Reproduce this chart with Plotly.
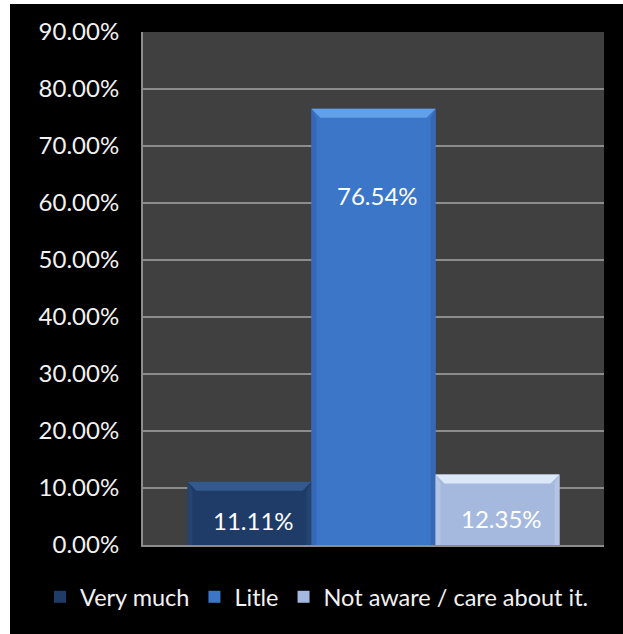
import plotly.graph_objects as go

# Survey responses (share of respondents)
series = ["Very much", "Litle", "Not aware / care about it."]
values = [11.11, 76.54, 12.35]
value_labels = ["11.11%", "76.54%", "12.35%"]
tick_vals = [0, 10, 20, 30, 40, 50, 60, 70, 80, 90]
tick_text = ["0.00%", "10.00%", "20.00%", "30.00%", "40.00%",
             "50.00%", "60.00%", "70.00%", "80.00%", "90.00%"]

# face / bevel colours per series
face = ["#1F3C68", "#3C76C8", "#A5B8DD"]
bevel_top = ["#33598F", "#62A0EA", "#DCE7F8"]
bevel_side = ["#25446F", "#3569B6", "#B3C4E5"]

W, H = 623, 634
L, R, T, B = 143, 19, 32, 89
plot_w = W - L - R
plot_h = H - T - B
y_max = 90
bargap = 0.193
n = len(series)
bw = (1 - bargap) / n

fig = go.Figure()
for i, (name, v) in enumerate(zip(series, values)):
    fig.add_trace(go.Bar(
        x=[0], y=[v], name=name,
        marker=dict(color=face[i], line=dict(width=0)),
        hoverinfo="skip",
    ))

shapes = []
annotations = []
dx = 9 / plot_w          # bevel width in x units
dy = 9 / plot_h * y_max  # bevel depth in y units
sx = 5 / plot_w
for i, v in enumerate(values):
    cx = (i - (n - 1) / 2) * bw
    x0, x1 = cx - bw / 2, cx + bw / 2
    # side bevels
    shapes.append(dict(type="path", xref="x", yref="y", layer="above",
                       path=f"M{x0},{v} L{x0+sx},{v-dy} L{x0+sx},0 L{x0},0 Z",
                       fillcolor=bevel_side[i], line=dict(width=0)))
    shapes.append(dict(type="path", xref="x", yref="y", layer="above",
                       path=f"M{x1},{v} L{x1-sx},{v-dy} L{x1-sx},0 L{x1},0 Z",
                       fillcolor=bevel_side[i], line=dict(width=0)))
    # top bevel
    shapes.append(dict(type="path", xref="x", yref="y", layer="above",
                       path=f"M{x0},{v} L{x1},{v} L{x1-dx},{v-dy} L{x0+dx},{v-dy} Z",
                       fillcolor=bevel_top[i], line=dict(width=0)))
    ly = v * (0.8 if v > 40 else 0.38)
    annotations.append(dict(x=cx + 4 / plot_w, y=ly, xref="x", yref="y",
                            text=value_labels[i], showarrow=False,
                            font=dict(family="Lato", size=24, color="#FFFFFF")))

# white page strips at the left and top edges
shapes.append(dict(type="rect", xref="paper", yref="paper", layer="above",
                   x0=-L / plot_w, x1=(10 - L) / plot_w,
                   y0=-B / plot_h, y1=(plot_h + T) / plot_h,
                   fillcolor="#FFFFFF", line=dict(width=0)))
shapes.append(dict(type="rect", xref="paper", yref="paper", layer="above",
                   x0=-L / plot_w, x1=(W - L) / plot_w,
                   y0=(plot_h + T - 4) / plot_h, y1=(plot_h + T) / plot_h,
                   fillcolor="#FFFFFF", line=dict(width=0)))

fig.update_layout(
    width=W, height=H,
    margin=dict(l=L, r=R, t=T, b=B, pad=0, autoexpand=False),
    paper_bgcolor="#000000",
    plot_bgcolor="#404040",
    barmode="group",
    bargap=bargap,
    bargroupgap=0,
    font=dict(family="Lato", size=20, color="#F2F2F2"),
    xaxis=dict(range=[-0.5, 0.5], showticklabels=False, showgrid=False,
               zeroline=False, showline=True, linecolor="#8C8C8C", linewidth=2,
               fixedrange=True),
    yaxis=dict(range=[0, y_max], tickvals=tick_vals, ticktext=tick_text,
               showgrid=True, gridcolor="#8C8C8C", gridwidth=2,
               zeroline=False, showline=True, linecolor="#8C8C8C", linewidth=2,
               ticks="", ticklabelstandoff=17,
               tickfont=dict(family="Lato", size=24, color="#F2F2F2"),
               fixedrange=True),
    legend=dict(orientation="h", xref="paper", yref="paper",
                x=(40 - L) / plot_w, xanchor="left",
                y=-(597 - (T + plot_h)) / plot_h, yanchor="middle",
                font=dict(family="Lato", size=23.5, color="#F2F2F2"),
                itemwidth=30, tracegroupgap=0, bgcolor="rgba(0,0,0,0)"),
    shapes=shapes,
    annotations=annotations,
    showlegend=True,
)

fig.write_html("out.html")
